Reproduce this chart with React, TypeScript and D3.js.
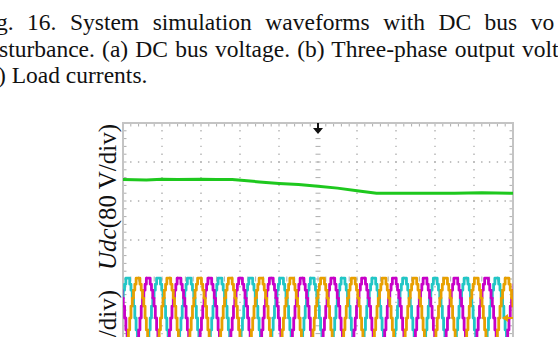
import React, { useRef, useEffect } from 'react';
import * as d3 from 'd3';

// caption lines (cropped from the paper page)
const captionLines = [
    "g. 16. System simulation waveforms with DC bus vo",
    "sturbance. (a) DC bus voltage. (b) Three-phase output volt",
    ") Load currents."
];

// DC bus voltage trace: time in divisions, level in divisions above screen centre
const udcTime = [0, 0.6, 1.0, 1.4, 2.0, 2.4, 2.8, 3.5, 4.0, 4.5, 5.0, 5.5, 6.0, 6.5, 7.5, 8.5, 9.2, 10];
const udcLevel = [2.55, 2.54, 2.56, 2.55, 2.56, 2.55, 2.55, 2.49, 2.45, 2.42, 2.38, 2.33, 2.26, 2.2, 2.2, 2.2, 2.21, 2.2];

// one period of the stepped phase waveform (normalised levels, 24 samples)
const stepShape = [0, 0.3, 0.5, 0.7, 0.85, 1, 1, 1, 0.85, 0.7, 0.5, 0.3,
    0, -0.3, -0.5, -0.7, -0.85, -1, -1, -1, -0.85, -0.7, -0.5, -0.3];
const periodDiv = 0.7885;
const phaseNames = ["c", "b", "a"];
const phaseOffsets = [-0.075, 0.451, 0.188];
const phaseColors = ["#22c6c6", "#c800c8", "#e8a000"];
const phaseCentre = -1; // ground marker level (div)
const phaseAmp = 1.02; // div

const App = () => {
    const ref = useRef<SVGSVGElement>(null);

    useEffect(() => {
        const svg = d3.select(ref.current);
        svg.selectAll("*").remove();

        const left = 123, top = 123, div = 39;
        const x = d3.scaleLinear().domain([0, 10]).range([left, left + 10 * div]);
        const y = d3.scaleLinear().domain([-4, 4]).range([top + 8 * div, top]);

        // caption
        const cap = svg.append("g")
            .attr("font-family", "'Liberation Serif', 'Times New Roman', serif")
            .attr("font-size", 23.5)
            .attr("fill", "#111");
        const spacing = [7.6, 1.3, 0];
        const startX = [-4, -1, -2];
        captionLines.forEach((t, i) => {
            cap.append("text")
                .attr("x", startX[i])
                .attr("y", 30 + i * 26.5)
                .attr("word-spacing", spacing[i])
                .text(t);
        });

        // y labels (rotated)
        const lab = svg.append("g")
            .attr("font-family", "'Liberation Serif', 'Times New Roman', serif")
            .attr("font-size", 25)
            .attr("fill", "#111");
        const l1 = lab.append("text")
            .attr("transform", "translate(116,270) rotate(-90)");
        l1.append("tspan").attr("font-style", "italic").text("Udc");
        l1.append("tspan").text("(80 V/div)");
        const l2 = lab.append("text")
            .attr("text-anchor", "end")
            .attr("transform", "translate(116,290) rotate(-90)");
        l2.append("tspan").attr("font-style", "italic").text("u");
        l2.append("tspan").attr("font-style", "italic").attr("font-size", 17).text("abc");
        l2.append("tspan").text("(100 V/div)");

        // grid
        const grid = svg.append("g").attr("stroke", "#adadad");
        const minorX = d3.range(0, 10.001, 0.2);
        const minorY = d3.range(-4, 4.001, 0.2);
        d3.range(1, 10).filter(k => k !== 5).forEach(k => {
            grid.append("line")
                .attr("x1", x(k)).attr("x2", x(k))
                .attr("y1", y(4)).attr("y2", y(-4))
                .attr("stroke-width", 1.3)
                .attr("stroke-dasharray", "1.4," + (div / 5 - 1.4))
                .attr("stroke-dashoffset", 0.7);
        });
        d3.range(-3, 4).filter(k => k !== 0).forEach(k => {
            grid.append("line")
                .attr("x1", x(0)).attr("x2", x(10))
                .attr("y1", y(k)).attr("y2", y(k))
                .attr("stroke-width", 1.3)
                .attr("stroke-dasharray", "1.4," + (div / 5 - 1.4))
                .attr("stroke-dashoffset", 0.7);
        });
        // centre axes with minor ticks
        minorY.forEach(v => {
            grid.append("line")
                .attr("x1", x(5) - 2.5).attr("x2", x(5) + 2.5)
                .attr("y1", y(v)).attr("y2", y(v))
                .attr("stroke-width", 1);
        });
        minorX.forEach(v => {
            grid.append("line")
                .attr("x1", x(v)).attr("x2", x(v))
                .attr("y1", y(0) - 2.5).attr("y2", y(0) + 2.5)
                .attr("stroke-width", 1);
        });
        // border ticks
        minorX.forEach(v => {
            grid.append("line")
                .attr("x1", x(v)).attr("x2", x(v))
                .attr("y1", y(4)).attr("y2", y(4) + 3.5)
                .attr("stroke-width", 1);
        });
        minorY.forEach(v => {
            grid.append("line")
                .attr("x1", x(0)).attr("x2", x(0) + 3.5)
                .attr("y1", y(v)).attr("y2", y(v))
                .attr("stroke-width", 1);
            grid.append("line")
                .attr("x1", x(10) - 3.5).attr("x2", x(10))
                .attr("y1", y(v)).attr("y2", y(v))
                .attr("stroke-width", 1);
        });
        svg.append("rect")
            .attr("x", x(0)).attr("y", y(4))
            .attr("width", x(10) - x(0)).attr("height", y(-4) - y(4))
            .attr("fill", "none")
            .attr("stroke", "#c4c4c4")
            .attr("stroke-width", 2);

        svg.append("clipPath").attr("id", "plotclip")
            .append("rect")
            .attr("x", x(0)).attr("y", y(4))
            .attr("width", x(10) - x(0)).attr("height", y(-4) - y(4));

        const plot = svg.append("g").attr("clip-path", "url(#plotclip)");

        // three-phase stepped waveforms
        const line = d3.line<[number, number]>()
            .x(d => x(d[0]))
            .y(d => y(d[1]))
            .curve(d3.curveStep);
        phaseNames.forEach((name, p) => {
            const pts: [number, number][] = [];
            for (let k = -2; k < 16; k++) {
                stepShape.forEach((s, i) => {
                    const t = phaseOffsets[p] + (k + i / stepShape.length) * periodDiv;
                    pts.push([t, phaseCentre + phaseAmp * s]);
                });
            }
            plot.append("path")
                .datum(pts)
                .attr("class", "phase-" + name)
                .attr("d", line)
                .attr("fill", "none")
                .attr("stroke", phaseColors[p])
                .attr("stroke-width", 2.8)
                .attr("stroke-linejoin", "round");
        });

        // DC bus voltage
        const udc = udcTime.map((t, i) => [t, udcLevel[i]] as [number, number]);
        plot.append("path")
            .datum(udc)
            .attr("d", d3.line<[number, number]>().x(d => x(d[0])).y(d => y(d[1])))
            .attr("fill", "none")
            .attr("stroke", "#1ec81e")
            .attr("stroke-width", 3);

        // trigger marker
        const tx = x(5), ty = y(4);
        svg.append("path")
            .attr("d", `M${tx - 1},${ty} h2 v5 h4 l-5,6 l-5,-6 h4 z`)
            .attr("fill", "#111");

        // channel ground marker (orange)
        const gx = x(10), gy = y(phaseCentre);
        svg.append("path")
            .attr("d", `M${gx - 11},${gy} l6,-4 v3 h5 v2 h-5 v3 z`)
            .attr("fill", "#e8a000");
    }, []);

    return (
        <svg ref={ref} width={558} height={337}
            style={{ position: 'absolute', left: 0, top: 0, background: '#fff' }}></svg>
    );
};

export default App;
